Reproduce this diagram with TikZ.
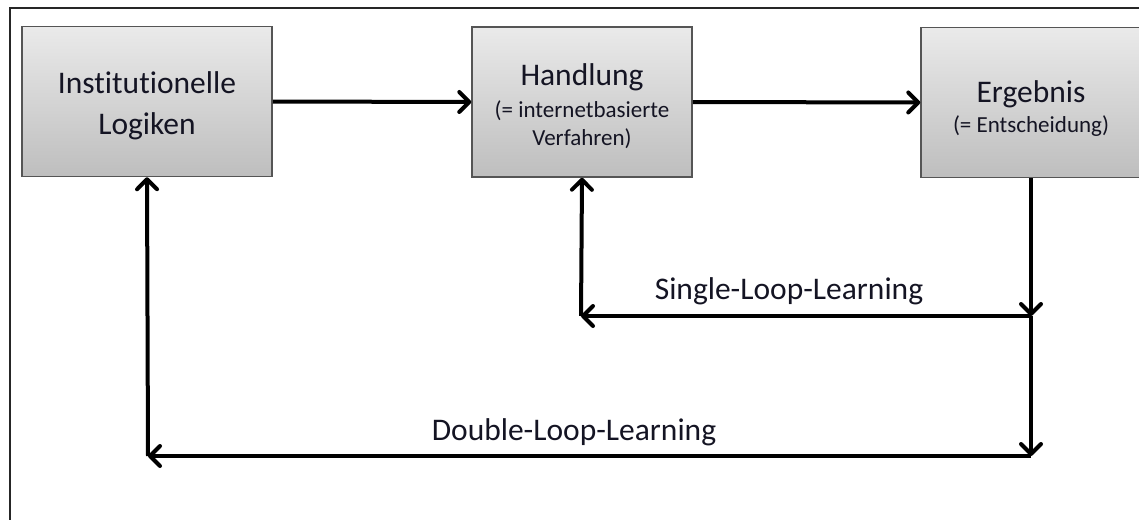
\documentclass[tikz,border=0pt]{standalone}
\usepackage{fontspec}
\setmainfont{Carlito}[Ligatures=NoCommon]
\usetikzlibrary{arrows.meta}
\definecolor{boxtop}{RGB}{234,234,234}
\definecolor{boxbot}{RGB}{190,190,190}
\definecolor{boxline}{RGB}{85,85,85}
\definecolor{ink}{RGB}{20,20,35}
\newcommand{\bigsz}{\fontsize{31.5}{41}\selectfont}
\newcommand{\smallsz}{\fontsize{23}{28}\selectfont}
\tikzset{
  stagebox/.style={draw=boxline, line width=1.5pt, top color=boxtop, bottom color=boxbot,
    minimum height=150pt, inner sep=0pt},
  stagetext/.style={text=ink, align=center, inner sep=0pt},
  flow/.style={line width=4pt, -{Straight Barb[length=10pt,width=20pt,round]}},
  looplabel/.style={text=ink, font=\bigsz, anchor=base},
}
\begin{document}
\begin{tikzpicture}[x=1pt,y=-1pt]
\useasboundingbox (0,0) rectangle (1139,519);
\begin{scope}
\clip (0,0) rectangle (1139,519);
% outer frame
\draw[line width=2pt, black!85] (10,530) -- (10,8) -- (1150,8);
% the three stages
\node[stagebox, minimum width=250pt] (logik) at (147,101.5) {};
\node[stagebox, minimum width=220pt] (hand) at (582,102) {};
\node[stagebox, minimum width=220pt] (erg) at (1031,102.5) {};
\node[stagetext, font=\bigsz] (logikText) at ([yshift=-4pt]logik.center)
  {Institutionelle\\ Logiken};
\node[stagetext, font=\smallsz] (handText) at ([yshift=-4pt]hand.center)
  {{\bigsz Handlung}\\[4pt] (= internetbasierte\\ Verfahren)};
\node[stagetext, font=\smallsz] (ergText) at ([yshift=-6pt]erg.center)
  {{\bigsz Ergebnis}\\[2pt] (= Entscheidung)};
% loop corners
\coordinate (single) at (1031,316);
\coordinate (double) at (1031,456);
\coordinate (singleL) at (581,316);
\coordinate (doubleL) at (148,456);
% main sequence
\draw[flow] (logik.east) -- (hand.west);
\draw[flow] (hand.east) -- (erg.west);
% feedback loops
\draw[flow] (erg.south) -- (single);
\draw[flow] (single) -- (double);
\draw[flow] (single) -- (singleL);
\draw[flow] (singleL) -- (hand.south);
\draw[flow] (double) -- (doubleL);
\draw[flow] (doubleL) -- (logik.south);
% labels
\node[looplabel] (slabel) at (789,299) {Single-Loop-Learning};
\node[looplabel] (dlabel) at (574,440) {Double-Loop-Learning};
\end{scope}
\end{tikzpicture}
\end{document}
